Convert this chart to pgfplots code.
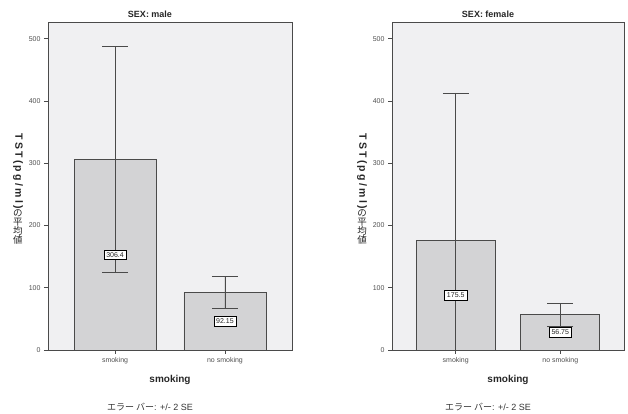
\documentclass[border=0pt]{standalone}
\usepackage{pgfplots}
\pgfplotsset{compat=1.18}
\usepackage{fontspec}
\setmainfont{Liberation Sans}
\newfontfamily\cjk{Noto Sans CJK JP}
\definecolor{bgc}{HTML}{F0F0F2}
\definecolor{barc}{HTML}{D3D3D5}
\definecolor{edgec}{HTML}{4A4A4A}
\definecolor{tickc}{HTML}{505050}
\newcommand{\cj}[1]{{\cjk\fontsize{9.5}{11}\selectfont #1}}
\newcommand{\ylab}{\begin{tabular}{@{}c@{}}\rotatebox{-90}{\bfseries\fontsize{10.5}{11}\selectfont\addfontfeatures{LetterSpace=22}TST(pg/ml)}\\[-1pt]
\cj{の}\\[-3pt]\cj{平}\\[-3pt]\cj{均}\\[-3pt]\cj{値}\end{tabular}}
\pgfplotsset{
 panel/.style={
  scale only axis, height=328pt, ymin=0, ymax=527, xmin=-0.61, xmax=1.61,
  axis background/.style={fill=bgc},
  axis line style={edgec, line width=0.8pt},
  ytick={0,100,...,500}, xtick={0,1}, xticklabels={smoking, no smoking},
  xtick pos=bottom, ytick pos=left,
  tick align=outside, major tick length=4pt, tick style={edgec, line width=0.6pt},
  ticklabel style={font=\fontsize{7}{8}\selectfont, text=tickc},
  /pgf/number format/assume math mode=true,
  every axis title/.style={at={(axis description cs:0.5,1)}, anchor=center, yshift=8pt, xshift=-20pt, font=\bfseries\fontsize{9}{10}\selectfont, text=black!85},
  every axis x label/.style={at={(axis description cs:0.5,0)}, anchor=center, yshift=-30pt, font=\bfseries\fontsize{10}{12}\selectfont, text=black!85},
  every axis y label/.style={at={(axis description cs:0,0.5)}, anchor=center, xshift=-30pt, text=black!85},
  ylabel={\ylab},
  xlabel={smoking},
  after end axis/.code={\node[font=\fontsize{9}{10}\selectfont, text=black!80] at (axis description cs:0.5,0) [yshift=-57pt, xshift=-20pt] {{\cjk エラー バー}: +/- 2 SE};},
 },
 barsty/.style={ybar, bar width=#1, bar shift=0pt, fill=barc, draw=edgec, line width=0.6pt,
   error bars/.cd, y dir=both, y explicit, error bar style={edgec, line width=0.7pt},
   error mark options={edgec, line width=0.7pt, mark size=13pt, rotate=90}},
 valsty/.style={draw=none, mark=none, nodes near coords, point meta=explicit symbolic,
   nodes near coords style={anchor=center, draw=black, fill=white, inner sep=2.3pt, line width=0.5pt, text=black!85, font=\fontsize{7}{8}\selectfont}},
}
\begin{document}
\begin{tikzpicture}
\begin{axis}[panel, width=244pt, at={(48pt,64pt)}, anchor=south west, title={SEX: male}]
\addplot[barsty=82pt] coordinates {(0,306.4) +- (0,181) (1,92.15) +- (0,25.5)};
\addplot[valsty] coordinates {(0,153.2) [306.4] (1,46.08) [92.15]};
\end{axis}
\begin{axis}[panel, width=232pt, at={(392pt,64pt)}, anchor=south west, title={SEX: female}]
\addplot[barsty=79pt] coordinates {(0,175.5) += (0,237.5) -= (0,175.5) (1,56.75) +- (0,18)};
\addplot[valsty] coordinates {(0,87.75) [175.5] (1,28.38) [56.75]};
\end{axis}
\pgfresetboundingbox
\path[use as bounding box] (0,0) rectangle (628pt,414pt);
\end{tikzpicture}
\end{document}
